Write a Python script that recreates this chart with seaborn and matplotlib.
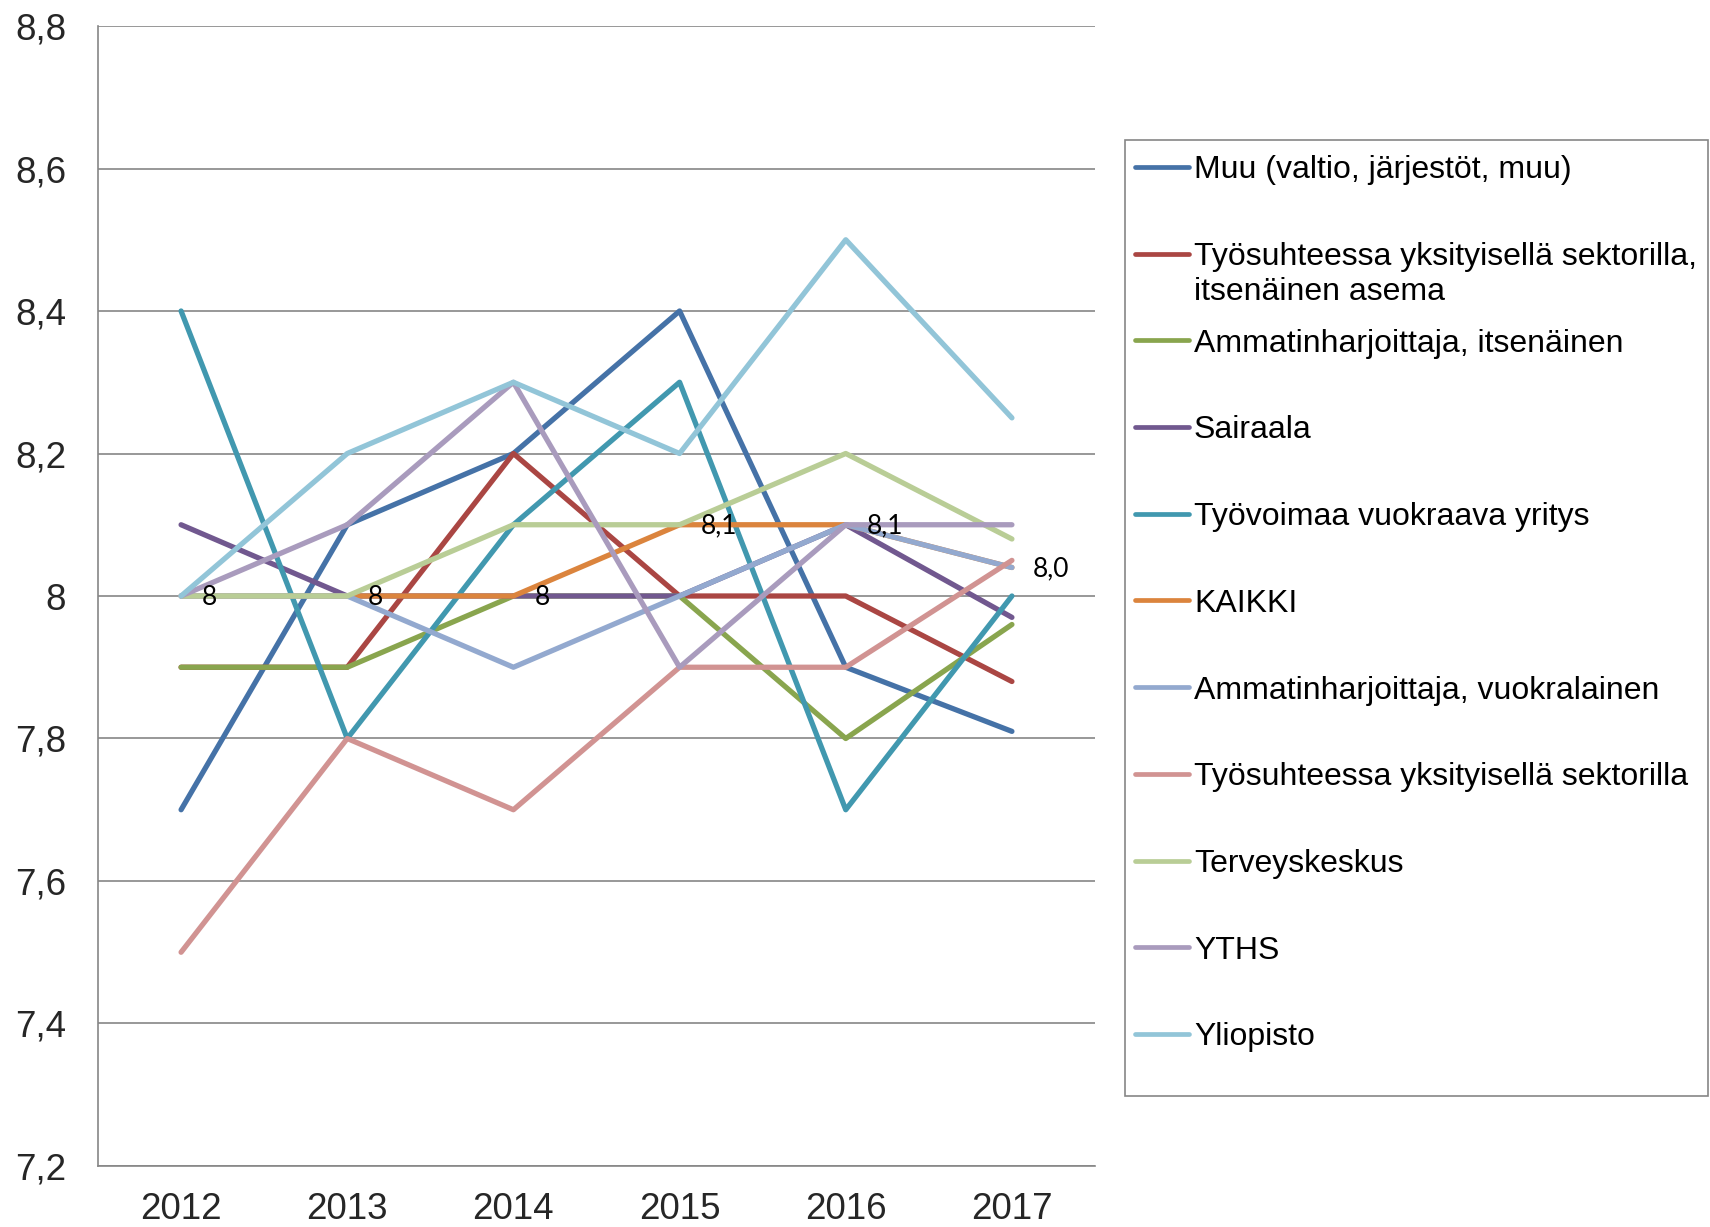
import matplotlib
matplotlib.use("Agg")
import matplotlib.pyplot as plt
from matplotlib.lines import Line2D
from matplotlib.patches import Rectangle
from matplotlib.ticker import FixedLocator, FuncFormatter
import seaborn as sns
import pandas as pd

# Years on the category axis
years = ["2012", "2013", "2014", "2015", "2016", "2017"]

# Series values per year
muu = [7.7, 8.1, 8.2, 8.4, 7.9, 7.81]
tyosuhde_itsenainen = [7.9, 7.9, 8.2, 8.0, 8.0, 7.88]
amm_itsenainen = [7.9, 7.9, 8.0, 8.0, 7.8, 7.96]
sairaala = [8.1, 8.0, 8.0, 8.0, 8.1, 7.97]
tyovoima = [8.4, 7.8, 8.1, 8.3, 7.7, 8.0]
kaikki = [8.0, 8.0, 8.0, 8.1, 8.1, 8.04]
amm_vuokralainen = [8.0, 8.0, 7.9, 8.0, 8.1, 8.04]
tyosuhde = [7.5, 7.8, 7.7, 7.9, 7.9, 8.05]
terveyskeskus = [8.0, 8.0, 8.1, 8.1, 8.2, 8.08]
yths = [8.0, 8.1, 8.3, 7.9, 8.1, 8.1]
yliopisto = [8.0, 8.2, 8.3, 8.2, 8.5, 8.25]

# Value labels shown on the KAIKKI series
kaikki_labels = ["8", "8", "8", "8,1", "8,1", "8,0"]

series_names = [
    "Muu (valtio, järjestöt, muu)",
    "Työsuhteessa yksityisellä sektorilla,\nitsenäinen asema",
    "Ammatinharjoittaja, itsenäinen",
    "Sairaala",
    "Työvoimaa vuokraava yritys",
    "KAIKKI",
    "Ammatinharjoittaja, vuokralainen",
    "Työsuhteessa yksityisellä sektorilla",
    "Terveyskeskus",
    "YTHS",
    "Yliopisto",
]
series_values = [muu, tyosuhde_itsenainen, amm_itsenainen, sairaala, tyovoima,
                 kaikki, amm_vuokralainen, tyosuhde, terveyskeskus, yths, yliopisto]
colors = ["#4572A7", "#AA4643", "#89A54E", "#71588F", "#4198AF", "#DB843D",
          "#93A9CF", "#D19392", "#B9CD96", "#A99BBD", "#92C5D8"]

rows = []
for name, vals in zip(series_names, series_values):
    for i, v in enumerate(vals):
        rows.append({"series": name, "pos": i, "value": v})
df = pd.DataFrame(rows)

sns.set_style("white")
plt.rcParams["font.family"] = ["Liberation Sans", "DejaVu Sans"]

W, H = 1710, 1227
fig = plt.figure(figsize=(W / 100, H / 100), dpi=100)
ax = fig.add_axes([98 / W, 1 - 1166 / H, (1095 - 98) / W, (1166 - 26) / H])

sns.lineplot(data=df, x="pos", y="value", hue="series", hue_order=series_names,
             palette=colors, linewidth=3.8, sort=False, legend=False, ax=ax,
             solid_capstyle="round", zorder=3)

# KAIKKI value labels
k_idx = series_names.index("KAIKKI")
for i, (v, lab) in enumerate(zip(series_values[k_idx], kaikki_labels)):
    ax.annotate(lab, (i, v), xytext=(15, -1), textcoords="offset points",
                ha="left", va="center", fontsize=19, family=["Lato", "DejaVu Sans"],
                color="black", zorder=5)

grid_c = "#868686"
ax.set_xlim(-0.5, 5.5)
ax.set_ylim(7.2, 8.8)
yt = [7.2 + 0.2 * k for k in range(9)]
ax.yaxis.set_major_locator(FixedLocator(yt))
ax.yaxis.set_major_formatter(FuncFormatter(
    lambda v, p: ("%.1f" % v).replace(".", ",") if abs(v - 8.0) > 1e-6 else "8"))
ax.grid(axis="y", color=grid_c, linewidth=1.2, zorder=0)
ax.set_axisbelow(True)

# category axis: labels at centres, tick marks at boundaries
ax.set_xticks(range(len(years)))
ax.set_xticklabels(years)
ax.set_xticks([k - 0.5 for k in range(len(years) + 1)], minor=True)
ax.tick_params(axis="x", which="major", length=0, pad=19, labelsize=26.5)
ax.tick_params(axis="x", which="minor", length=10, width=1.2, color=grid_c, direction="out")
ax.tick_params(axis="y", length=12, width=1.2, color=grid_c, direction="out",
               pad=11, labelsize=26.5)

for s in ["top", "right"]:
    ax.spines[s].set_visible(False)
for s in ["left", "bottom"]:
    ax.spines[s].set_color(grid_c)
    ax.spines[s].set_linewidth(1.2)
ax.set_xlabel("")
ax.set_ylabel("")

# Legend panel
fig.add_artist(Rectangle((1124.5 / W, 1 - 1096 / H), (1708 - 1124.5) / W, (1096 - 139.6) / H,
                         transform=fig.transFigure, facecolor="white",
                         edgecolor=grid_c, linewidth=1.2))
y0, step, line_gap = 166.9, 86.7, 35.0
for i, (name, c) in enumerate(zip(series_names, colors)):
    yc = y0 + step * i
    fig.add_artist(Line2D([1135 / W, 1189 / W], [1 - yc / H, 1 - yc / H],
                          transform=fig.transFigure, color=c, linewidth=3.4,
                          solid_capstyle="round"))
    for j, part in enumerate(name.split("\n")):
        fig.text(1194 / W, 1 - (yc + j * line_gap) / H, part, fontsize=23,
                 ha="left", va="center_baseline", color="black")

fig.savefig("out.png", dpi=100)
